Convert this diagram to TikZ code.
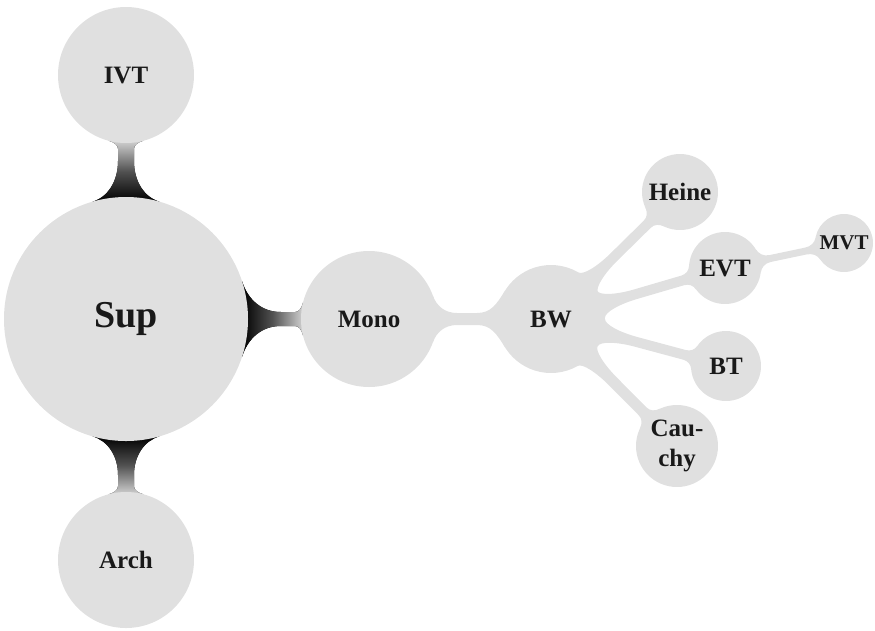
\documentclass[tikz,border=0pt]{standalone}
\usepackage{fontspec}
\setmainfont{Liberation Serif}
\definecolor{circgray}{RGB}{224,224,224}
\pgfdeclarelayer{bg}
\pgfsetlayers{bg,main}
\tikzset{
  bub/.style={circle, fill=circgray, inner sep=0pt, outer sep=0pt, text=black!90,
    align=center, font=\bfseries\fontsize{25}{30}\selectfont},
  supfont/.style={font=\bfseries\fontsize{38}{44}\selectfont},
  smallfont/.style={font=\bfseries\fontsize{21}{25}\selectfont},
  lightneck/.style={fill=circgray},
  hneck/.style={left color=black, right color=black!18, middle color=black!68},
  upneck/.style={bottom color=black, top color=black!18, middle color=black!68},
  downneck/.style={top color=black, bottom color=black!18, middle color=black!68}
}
% local point (x along A->B, y across) -> named coordinate
\newcommand\nkmk[3]{%
  \pgfmathsetmacro\nkX{\nkax+(#2)*\nkux-(#3)*\nkuy}%
  \pgfmathsetmacro\nkY{\nkay+(#2)*\nkuy+(#3)*\nkux}%
  \coordinate (nk-#1) at (\nkX pt,\nkY pt);}
% #1 style, #2 node A, #3 node B, #4 half width, #5 angle at A, #6 flare length at A, #7 angle at B, #8 flare length at B
\newcommand\neck[8][]{%
  \pgfpointanchor{#2}{center}\pgfgetlastxy{\nkax}{\nkay}%
  \pgfpointanchor{#3}{center}\pgfgetlastxy{\nkbx}{\nkby}%
  \pgfpointanchor{#2}{east}\pgfgetlastxy{\nkex}{\nkey}%
  \pgfmathsetmacro\nkra{\nkex-\nkax}%
  \pgfpointanchor{#3}{east}\pgfgetlastxy{\nkex}{\nkey}%
  \pgfmathsetmacro\nkrb{\nkex-\nkbx}%
  \pgfmathsetmacro\nkd{veclen(\nkbx-\nkax,\nkby-\nkay)}%
  \pgfmathsetmacro\nkux{(\nkbx-\nkax)/\nkd}%
  \pgfmathsetmacro\nkuy{(\nkby-\nkay)/\nkd}%
  \def\nkh{#4}%
  \pgfmathsetmacro\nkpax{\nkra*cos(#5)}%
  \pgfmathsetmacro\nkpay{\nkra*sin(#5)}%
  \pgfmathsetmacro\nkcax{\nkpax+0.6*(\nkpay-\nkh)*tan(#5)}%
  \pgfmathsetmacro\nkcay{\nkpay-0.6*(\nkpay-\nkh)}%
  \pgfmathsetmacro\nkqax{\nkra+#6}%
  \pgfmathsetmacro\nkdax{\nkqax-0.5*(\nkqax-\nkpax)}%
  \pgfmathsetmacro\nkpbx{\nkd-\nkrb*cos(#7)}%
  \pgfmathsetmacro\nkpby{\nkrb*sin(#7)}%
  \pgfmathsetmacro\nkcbx{\nkpbx-0.6*(\nkpby-\nkh)*tan(#7)}%
  \pgfmathsetmacro\nkcby{\nkpby-0.6*(\nkpby-\nkh)}%
  \pgfmathsetmacro\nkqbx{\nkd-\nkrb-#8}%
  \pgfmathsetmacro\nkdbx{\nkqbx+0.5*(\nkpbx-\nkqbx)}%
  \nkmk{PAu}{\nkpax}{\nkpay}\nkmk{PAl}{\nkpax}{-\nkpay}%
  \nkmk{CAu}{\nkcax}{\nkcay}\nkmk{CAl}{\nkcax}{-\nkcay}%
  \nkmk{DAu}{\nkdax}{\nkh}\nkmk{DAl}{\nkdax}{-\nkh}%
  \nkmk{QAu}{\nkqax}{\nkh}\nkmk{QAl}{\nkqax}{-\nkh}%
  \nkmk{QBu}{\nkqbx}{\nkh}\nkmk{QBl}{\nkqbx}{-\nkh}%
  \nkmk{DBu}{\nkdbx}{\nkh}\nkmk{DBl}{\nkdbx}{-\nkh}%
  \nkmk{CBu}{\nkcbx}{\nkcby}\nkmk{CBl}{\nkcbx}{-\nkcby}%
  \nkmk{PBu}{\nkpbx}{\nkpby}\nkmk{PBl}{\nkpbx}{-\nkpby}%
  \fill[#1] (nk-PAu) .. controls (nk-CAu) and (nk-DAu) .. (nk-QAu) -- (nk-QBu)
     .. controls (nk-DBu) and (nk-CBu) .. (nk-PBu) -- (nk-PBl)
     .. controls (nk-CBl) and (nk-DBl) .. (nk-QBl) -- (nk-QAl)
     .. controls (nk-DAl) and (nk-CAl) .. (nk-PAl) -- cycle;
}
\begin{document}
\begin{tikzpicture}[x=1pt,y=-1pt]
\useasboundingbox (0,0) rectangle (875,630);
\node[bub, supfont, minimum size=244pt] (Sup) at (126,319) {Sup};
\node[bub, minimum size=136pt] (IVT) at (126,75) {IVT};
\node[bub, minimum size=136pt] (Arch) at (126,560) {Arch};
\node[bub, minimum size=136pt] (Mono) at (369,319) {Mono};
\node[bub, minimum size=108pt] (BW) at (551,319) {BW};
\node[bub, minimum size=76pt] (Heine) at (680,192) {Heine};
\node[bub, minimum size=72pt] (EVT) at (725,268) {EVT};
\node[bub, smallfont, minimum size=58pt] (MVT) at (844,243) {MVT};
\node[bub, minimum size=70pt] (BT) at (726,366) {BT};
\node[bub, minimum size=82pt] (Cauchy) at (677,446) {Cau-\\chy};
\begin{pgfonlayer}{bg}
\neck[upneck]{Sup}{IVT}{8}{16}{36}{15}{6}
\neck[downneck]{Sup}{Arch}{8}{16}{34}{15}{6}
\neck[hneck]{Sup}{Mono}{7}{18}{33}{14}{6}
\neck[lightneck]{Mono}{BW}{6}{20}{20}{32}{20}
\neck[lightneck]{BW}{Heine}{5}{15}{34}{20}{8}
\neck[lightneck]{BW}{EVT}{5}{15}{34}{20}{8}
\neck[lightneck]{BW}{BT}{5}{15}{34}{20}{8}
\neck[lightneck]{BW}{Cauchy}{5.5}{15}{34}{20}{8}
\neck[lightneck]{EVT}{MVT}{3.5}{20}{10}{22}{10}
\end{pgfonlayer}
\end{tikzpicture}
\end{document}
